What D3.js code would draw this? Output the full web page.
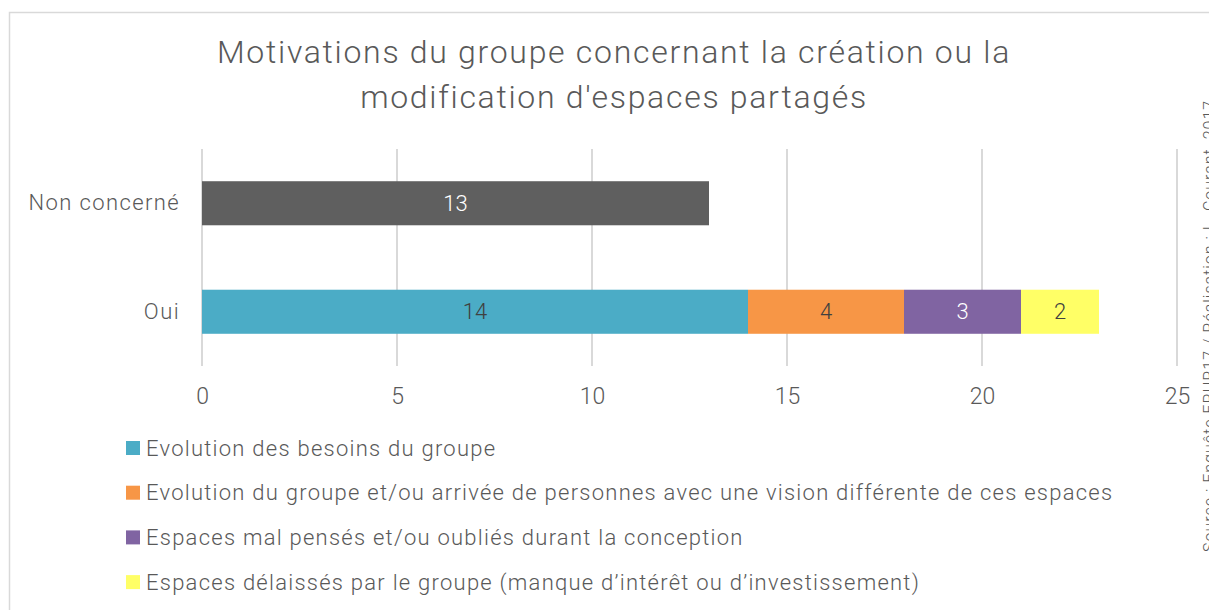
<!DOCTYPE html>
<html lang="fr">
<head>
    <meta charset="UTF-8">
    <title>Motivations du groupe</title>
    <script src="https://d3js.org/d3.v7.min.js"></script>
    <style>
        body { margin: 0; background: #fff; overflow: hidden; }
        svg text { font-family: Roboto, "Open Sans", sans-serif; font-weight: 300; fill: #595959; }
    </style>
</head>
<body>
    <svg id="chart" width="1209" height="610"></svg>

    <script>
        // Données
        const categories = ["Non concerné", "Oui"];
        const seriesNames = [
            "Non concerné",
            "Evolution des besoins du groupe",
            "Evolution du groupe et/ou arrivée de personnes avec une vision différente de ces espaces",
            "Espaces mal pensés et/ou oubliés durant la conception",
            "Espaces délaissés par le groupe (manque d’intérêt ou d’investissement)"
        ];
        const nonConcerneValues = [13, 0];
        const besoinsValues = [0, 14];
        const arriveeValues = [0, 4];
        const malPensesValues = [0, 3];
        const delaissesValues = [0, 2];
        const xTicks = [0, 5, 10, 15, 20, 25];

        const colors = ["#5f5f5f", "#4bacc6", "#f79646", "#8064a2", "#ffff66"];
        const labelColors = ["#ffffff", "#404040", "#404040", "#ffffff", "#404040"];

        const svg = d3.select("#chart");

        // Cadre
        svg.append("rect")
            .attr("x", 9.5).attr("y", 12.5)
            .attr("width", 1230).attr("height", 620)
            .attr("fill", "none").attr("stroke", "#d9d9d9").attr("stroke-width", 1.5);

        // Titre
        const title = ["Motivations du groupe concernant la création ou la", "modification d'espaces partagés"];
        svg.selectAll(".title").data(title).enter().append("text")
            .attr("class", "title")
            .attr("x", 614).attr("y", (d, i) => 63 + i * 45)
            .attr("text-anchor", "middle")
            .style("font-size", "32px").style("letter-spacing", "1.7px")
            .text(d => d);

        // Echelles
        const x = d3.scaleLinear().domain([0, 25]).range([202, 1177]);
        const y = d3.scaleBand().domain(categories).range([149, 366])
            .paddingInner(0.594).paddingOuter(0.297);

        // Grille
        svg.append("g").selectAll("line")
            .data(xTicks).enter().append("line")
            .attr("x1", d => x(d)).attr("x2", d => x(d))
            .attr("y1", 149).attr("y2", 366)
            .attr("stroke", "#d9d9d9").attr("stroke-width", 2);

        // Axe X
        const xAxis = svg.append("g")
            .attr("transform", "translate(0,366)")
            .call(d3.axisBottom(x).tickValues(xTicks).tickSize(0).tickPadding(22));
        xAxis.select(".domain").remove();
        xAxis.selectAll("text").style("font-size", "23px")
            .style("font-family", "Roboto, sans-serif").attr("fill", "#595959");

        // Axe Y
        const yAxis = svg.append("g")
            .attr("transform", "translate(180,0)")
            .call(d3.axisLeft(y).tickSize(0).tickPadding(0));
        yAxis.select(".domain").remove();
        yAxis.selectAll("text").style("font-size", "22px").style("letter-spacing", "1.4px")
            .style("font-family", "Roboto, sans-serif").attr("fill", "#595959");

        // Empilement
        const table = categories.map((c, i) => ({
            cat: c,
            s0: nonConcerneValues[i],
            s1: besoinsValues[i],
            s2: arriveeValues[i],
            s3: malPensesValues[i],
            s4: delaissesValues[i]
        }));
        const keys = ["s0", "s1", "s2", "s3", "s4"];
        const stacked = d3.stack().keys(keys)(table);

        stacked.forEach((layer, k) => {
            const g = svg.append("g");
            const pts = layer.filter(d => d[1] - d[0] > 0);
            g.selectAll("rect").data(pts).enter().append("rect")
                .attr("x", d => x(d[0]))
                .attr("y", d => y(d.data.cat))
                .attr("width", d => x(d[1]) - x(d[0]))
                .attr("height", y.bandwidth())
                .attr("fill", colors[k]);
            g.selectAll("text").data(pts).enter().append("text")
                .attr("x", d => (x(d[0]) + x(d[1])) / 2)
                .attr("y", d => y(d.data.cat) + y.bandwidth() / 2)
                .attr("dy", "0.35em")
                .attr("text-anchor", "middle")
                .style("font-size", "22px")
                .style("fill", labelColors[k])
                .text(d => d[1] - d[0]);
        });

        // Légende
        const legend = svg.append("g");
        const legendItems = seriesNames.slice(1).map((n, i) => ({ name: n, color: colors[i + 1] }));
        const lg = legend.selectAll("g").data(legendItems).enter().append("g")
            .attr("transform", (d, i) => `translate(126,${448 + i * 44.7})`);
        lg.append("rect").attr("x", 0).attr("y", -7).attr("width", 14).attr("height", 14)
            .attr("fill", d => d.color);
        lg.append("text").attr("x", 20).attr("dy", "0.35em")
            .style("font-size", "22px").style("letter-spacing", "1.25px").text(d => d.name);

        // Source
        svg.append("text")
            .attr("transform", "translate(1215,552) rotate(-90)")
            .style("font-size", "16px").style("letter-spacing", "1px").attr("fill", "#7f7f7f")
            .text("Source : Enquête ERUR17 / Réalisation : L. Courant, 2017");
    </script>
</body>
</html>
